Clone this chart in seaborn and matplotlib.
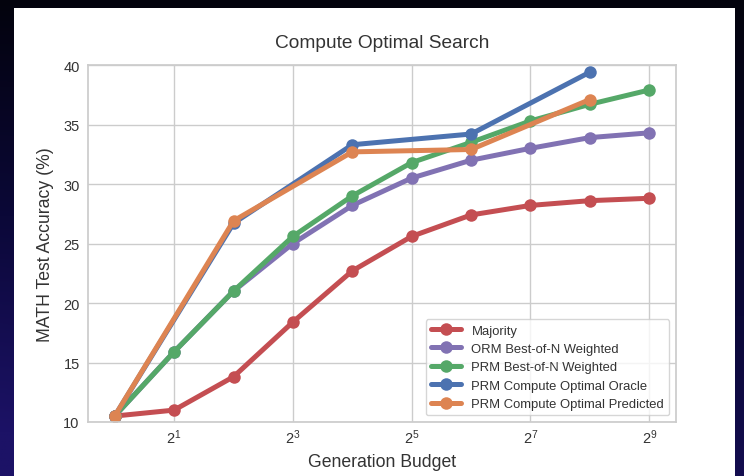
import numpy as np
import pandas as pd
import matplotlib
matplotlib.use("Agg")
import matplotlib.pyplot as plt
from matplotlib.colors import LinearSegmentedColormap
from matplotlib.patches import Rectangle
import seaborn as sns

# Generation budgets (number of samples) and accuracy (%) per method
budgets = [1, 2, 4, 8, 16, 32, 64, 128, 256, 512]
majority = [10.5, 11.0, 13.8, 18.4, 22.7, 25.6, 27.4, 28.2, 28.6, 28.8]
orm_best_of_n = [10.5, 15.9, 21.0, 25.0, 28.2, 30.5, 32.0, 33.0, 33.9, 34.3]
prm_best_of_n = [10.5, 15.9, 21.0, 25.6, 29.0, 31.8, 33.5, 35.3, 36.7, 37.9]

optimal_budgets = [1, 4, 16, 64, 256]
prm_optimal_oracle = [10.5, 26.7, 33.3, 34.2, 39.4]
prm_optimal_predicted = [10.5, 26.9, 32.7, 32.9, 37.1]

method_names = [
    "Majority",
    "ORM Best-of-N Weighted",
    "PRM Best-of-N Weighted",
    "PRM Compute Optimal Oracle",
    "PRM Compute Optimal Predicted",
]
xtick_values = [2, 8, 32, 128, 512]
xtick_labels = [r"$\mathdefault{2^{1}}$", r"$\mathdefault{2^{3}}$", r"$\mathdefault{2^{5}}$",
                r"$\mathdefault{2^{7}}$", r"$\mathdefault{2^{9}}$"]
ytick_values = [10, 15, 20, 25, 30, 35, 40]

series = [
    (method_names[0], budgets, majority),
    (method_names[1], budgets, orm_best_of_n),
    (method_names[2], budgets, prm_best_of_n),
    (method_names[3], optimal_budgets, prm_optimal_oracle),
    (method_names[4], optimal_budgets, prm_optimal_predicted),
]
df = pd.concat(
    [pd.DataFrame({"budget": x, "accuracy": y, "method": name}) for name, x, y in series],
    ignore_index=True,
)

sns.set_theme(style="whitegrid", palette="deep")
plt.rcParams["font.family"] = ["Liberation Sans", "DejaVu Sans"]
plt.rcParams["text.color"] = "#333333"
plt.rcParams["axes.labelcolor"] = "#333333"
plt.rcParams["xtick.color"] = "#333333"
plt.rcParams["ytick.color"] = "#333333"

deep = sns.color_palette("deep")
palette = {method_names[0]: deep[3], method_names[1]: deep[4], method_names[2]: deep[2],
           method_names[3]: deep[0], method_names[4]: deep[1]}

W, H = 744, 477
fig = plt.figure(figsize=(W / 100, H / 100), dpi=100)

# Dark slide backdrop with a white panel for the chart
bg = fig.add_axes([0, 0, 1, 1], zorder=-5)
yy, xx = np.mgrid[0:1:200j, 0:1:300j]
t = np.clip(0.75 * yy + 0.35 * (1 - xx) * yy, 0, 1)
cmap = LinearSegmentedColormap.from_list("slide", ["#03030d", "#0b0838", "#1c1266"])
bg.imshow(t, cmap=cmap, aspect="auto", extent=[0, 1, 0, 1], origin="upper")
bg.add_patch(Rectangle((14 / W, 0), (735 - 14) / W, (H - 9) / H,
                       transform=bg.transAxes, facecolor="white", edgecolor="none"))
bg.set_xlim(0, 1)
bg.set_ylim(0, 1)
bg.axis("off")

ax = fig.add_axes([88 / W, 1 - 423 / H, (676 - 88) / W, (423 - 66) / H])
sns.lineplot(data=df, x="budget", y="accuracy", hue="method", hue_order=method_names,
             palette=palette, marker="o", markersize=9, markeredgewidth=0,
             linewidth=3.6, ax=ax)

ax.set_xscale("log", base=2)
ax.set_xticks(xtick_values)
ax.set_xticklabels(xtick_labels)
ax.minorticks_off()
ax.set_ylim(10, 40)
ax.set_yticks(ytick_values)
ax.tick_params(axis="both", labelsize=10.5, length=0)
ax.tick_params(axis="y", pad=6)
ax.tick_params(axis="x", pad=4)

ax.set_title("Compute Optimal Search", fontsize=13.8, pad=13)
ax.set_xlabel("Generation Budget", fontsize=12.7, labelpad=5)
ax.set_ylabel("MATH Test Accuracy (%)", fontsize=12.7, labelpad=7)

ax.legend(loc="lower right", fontsize=9.4, labelspacing=0.48, handlelength=2.3,
          frameon=True, borderaxespad=0.5)

fig.savefig("out.png", dpi=100, facecolor=fig.get_facecolor())
